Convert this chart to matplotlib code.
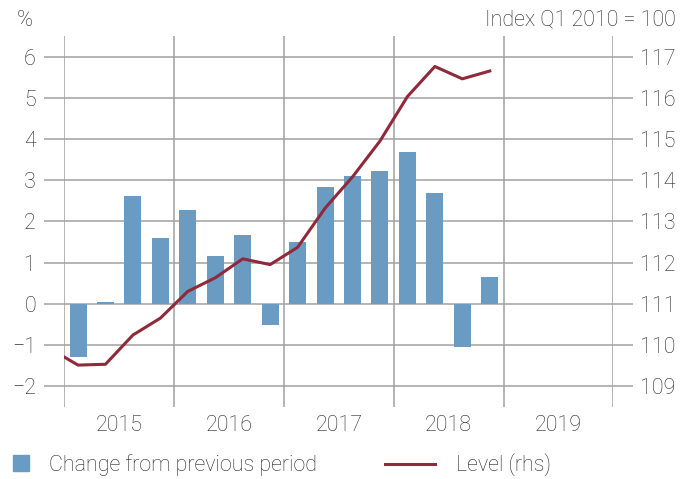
import matplotlib.pyplot as plt
import numpy as np
from matplotlib.lines import Line2D

# quarterly data
bar_quarters = ['2015Q1', '2015Q2', '2015Q3', '2015Q4',
                '2016Q1', '2016Q2', '2016Q3', '2016Q4',
                '2017Q1', '2017Q2', '2017Q3', '2017Q4',
                '2018Q1', '2018Q2', '2018Q3', '2018Q4']
change = [-1.29, 0.03, 2.61, 1.59,
          2.27, 1.17, 1.66, -0.51,
          1.49, 2.83, 3.10, 3.22,
          3.68, 2.68, -1.04, 0.66]

level_quarters = ['2014Q4'] + bar_quarters
level = [109.90, 109.51, 109.53, 110.24, 110.65,
         111.30, 111.63, 112.09, 111.95,
         112.37, 113.32, 114.08, 114.95,
         116.03, 116.76, 116.46, 116.65]

years = [2015, 2016, 2017, 2018, 2019]
left_ticks = [-2, -1, 0, 1, 2, 3, 4, 5, 6]
right_ticks = [109, 110, 111, 112, 113, 114, 115, 116, 117]


def qpos(q):
    y, n = q.split('Q')
    return int(y) + (int(n) - 0.5) / 4


bar_color = '#6a9bc2'
line_color = '#8e2a3a'
grid_color = '#a0a0a0'
text_color = '#262626'

plt.rcParams['font.family'] = ['Roboto', 'DejaVu Sans']
plt.rcParams['font.weight'] = 'light'
plt.rcParams['font.size'] = 15.5

fig = plt.figure(figsize=(6.94, 4.79), dpi=100)
ax = fig.add_axes([64.3 / 694, 72.3 / 479, 549 / 694, 370.7 / 479])

ax.bar([qpos(q) for q in bar_quarters], change, width=0.155, color=bar_color, zorder=2)
ax.set_xlim(2015, 2020)
ax.set_ylim(-2.5, 6.5)
ax.set_yticks(left_ticks)
ax.set_yticklabels([str(t).replace('-', '\u2212') for t in left_ticks])
ax.set_xticks([2015, 2016, 2017, 2018, 2019, 2020])
ax.set_xticklabels([])
ax.set_xticks([y + 0.5 for y in years], minor=True)
ax.set_xticklabels([str(y) for y in years], minor=True)
ax.tick_params(axis='x', which='both', length=0, pad=6, colors=text_color)
ax.tick_params(axis='y', length=14.4, width=1.1, color=grid_color, pad=6, labelcolor=text_color)
ax.grid(True, which='major', color=grid_color, linewidth=1.1)
ax.set_axisbelow(True)
for s in ax.spines.values():
    s.set_visible(False)

ax2 = ax.twinx()
ax2.plot([qpos(q) for q in level_quarters], level, color=line_color, linewidth=2.2, zorder=3)
ax2.set_ylim(108.5, 117.5)
ax2.set_yticks(right_ticks)
ax2.tick_params(axis='y', length=14.4, width=1.1, color=grid_color, pad=5, labelcolor=text_color)
ax2.set_xlim(2015, 2020)
for s in ax2.spines.values():
    s.set_visible(False)

fig.text(17 / 694, 1 - 20 / 479, '%', va='center', ha='left', color=text_color)
fig.text(676 / 694, 1 - 20 / 479, 'Index Q1 2010 = 100', va='center', ha='right', color=text_color)

h1 = Line2D([], [], marker='s', linestyle='none', markersize=11.5, color=bar_color)
leg1 = fig.legend([h1], ['Change from previous period'], loc='center left',
                  bbox_to_anchor=(11.3 / 694, 1 - 465 / 479), frameon=False,
                  borderpad=0, borderaxespad=0, handlelength=0.9, handletextpad=0.85,
                  labelcolor=text_color)
h2 = Line2D([], [], color=line_color, linewidth=2.2)
leg2 = fig.legend([h2], ['Level (rhs)'], loc='center left',
                  bbox_to_anchor=(385 / 694, 1 - 465 / 479), frameon=False,
                  borderpad=0, borderaxespad=0, handlelength=2.3, handletextpad=0.98,
                  labelcolor=text_color)

fig.savefig('out.png', dpi=100)
